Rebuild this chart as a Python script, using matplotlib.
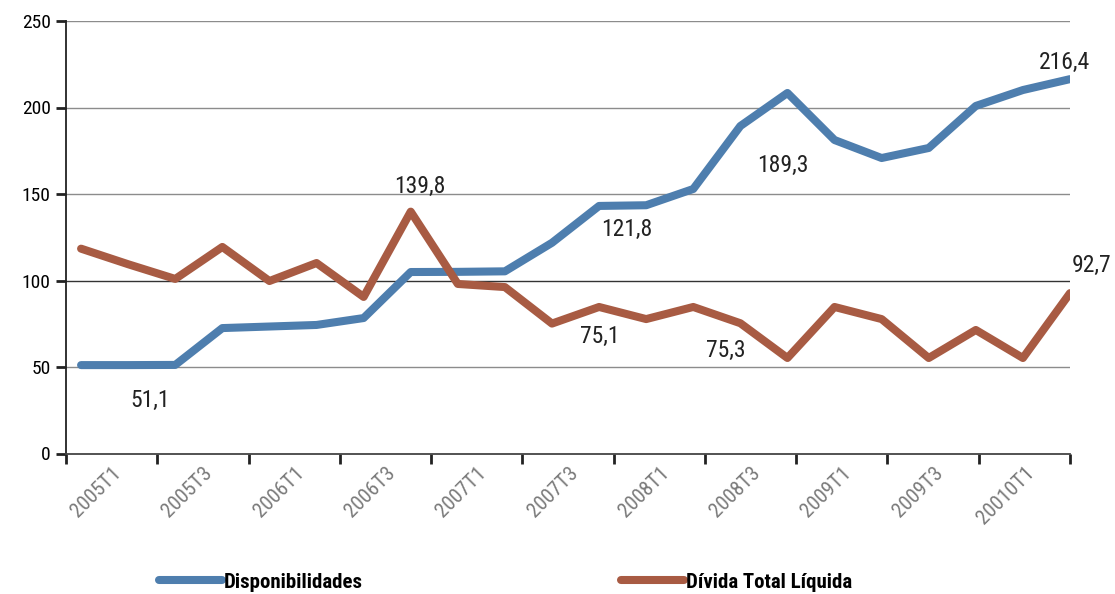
import numpy as np
import matplotlib.pyplot as plt

plt.rcParams['font.family'] = ['Liberation Sans Narrow', 'Roboto Condensed',
                               'Liberation Sans', 'DejaVu Sans']

# quarterly series, 2005T1 .. 2010T2
disponibilidades = [51.1, 51.1, 51.2, 72.5, 73.4, 74.3, 78.3, 104.9, 105.0, 105.3, 121.8,
                    143.1, 143.5, 152.9, 189.3, 208.4, 181.2, 170.8, 176.6, 200.9, 210.1, 216.4]
divida_liquida = [118.4, 109.4, 100.9, 119.4, 99.7, 110.1, 90.5, 139.8, 98.0, 96.2, 75.1,
                  84.7, 77.7, 84.7, 75.3, 55.2, 84.7, 77.7, 55.2, 71.4, 55.2, 92.7]
tick_labels = ['2005T1', '2005T3', '2006T1', '2006T3', '2007T1', '2007T3',
               '2008T1', '2008T3', '2009T1', '2009T3', '20010T1']

# value labels: (series, index, text, offset in pixels)
value_labels = [
    ('disp', 1, '51,1', (22, -35)),
    ('div', 7, '139,8', (9, 25)),
    ('disp', 10, '121,8', (75, 13)),
    ('div', 10, '75,1', (48, -13)),
    ('div', 14, '75,3', (-15, -27)),
    ('disp', 14, '189,3', (42, -39)),
    ('disp', 21, '216,4', (-5, 17)),
    ('div', 21, '92,7', (22, 28)),
]

blue = '#4e7eae'
red = '#a85b43'

fig = plt.figure(figsize=(11.15, 5.94), dpi=100)
ax = fig.add_axes([66 / 1115, 1 - 453.5 / 594, 1004 / 1115, 432.5 / 594])

x = np.arange(len(disponibilidades))
l1, = ax.plot(x, disponibilidades, color=blue, lw=5.8, solid_capstyle='round', zorder=3)
l2, = ax.plot(x, divida_liquida, color=red, lw=5.8, solid_capstyle='round', zorder=3)

series = {'disp': disponibilidades, 'div': divida_liquida}
for key, i, txt, (dx, dy) in value_labels:
    ax.annotate(txt, xy=(i, series[key][i]), xytext=(dx, dy), textcoords='offset pixels',
                ha='center', va='center', fontsize=17, color='#222222')

ax.set_xlim(-0.32, 21)
ax.set_ylim(0, 250)
ax.set_yticks(np.arange(0, 251, 50))
for v in ax.get_yticks()[1:]:
    ax.axhline(v, color='#333333' if v == 100 else '#8c8c8c', lw=1, zorder=1)

edges = np.linspace(*ax.get_xlim(), len(tick_labels) + 1)
ax.set_xticks(edges)
ax.set_xticklabels([])
ax.set_xticks((edges[:-1] + edges[1:]) / 2, minor=True)
ax.set_xticklabels(tick_labels, minor=True, rotation=45, ha='right',
                   rotation_mode='anchor', fontsize=15, color='#7a7a7a')
ax.tick_params(axis='x', which='major', length=7, width=2, color='#222222', direction='out')
ax.tick_params(axis='x', which='minor', length=0, pad=7)
ax.tick_params(axis='y', length=7, width=2, color='#222222', labelsize=14, pad=4)

for s in ['top', 'right']:
    ax.spines[s].set_visible(False)
ax.spines['left'].set_color('#222222')
ax.spines['left'].set_linewidth(1.3)
ax.spines['bottom'].set_color('#444444')
ax.spines['bottom'].set_linewidth(1.3)

fig.legend([l1, l2], ['Disponibilidades', 'Dívida Total Líquida'], ncol=2, frameon=False,
           loc='center left', bbox_to_anchor=(149 / 1115, 1 - 582 / 594),
           handlelength=3.0, handletextpad=0.1, columnspacing=12.4, borderpad=0,
           prop={'size': 15, 'weight': 'bold'})

fig.savefig('out.png', dpi=100)
